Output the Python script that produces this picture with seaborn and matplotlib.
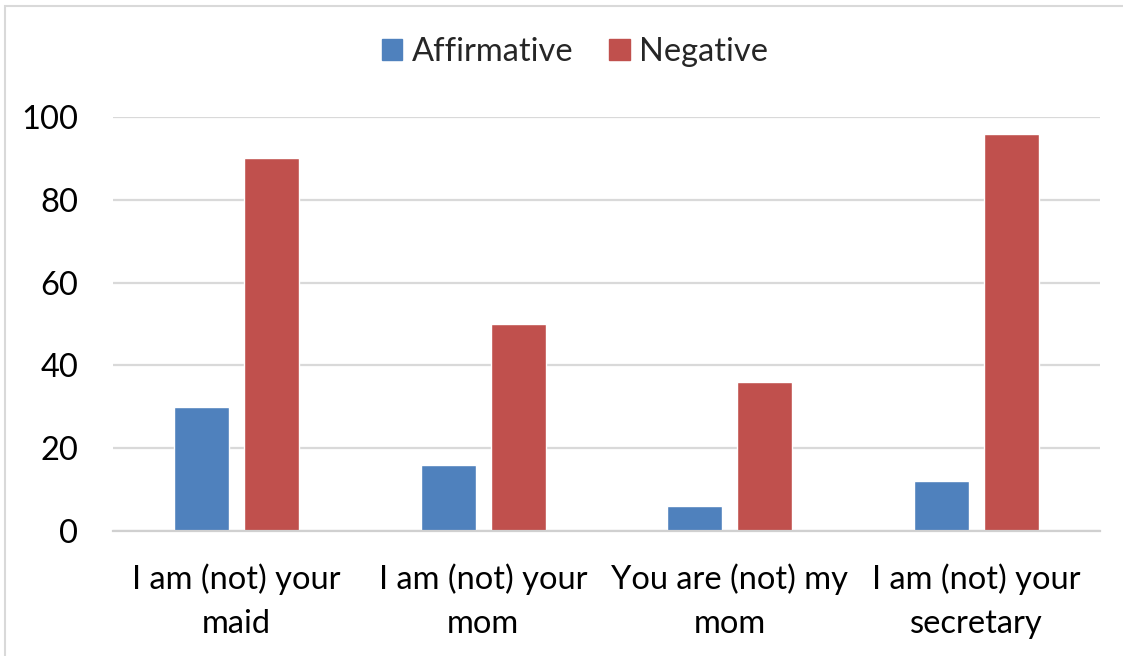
import matplotlib
matplotlib.use("Agg")
import matplotlib.pyplot as plt
from matplotlib.patches import Rectangle
import seaborn as sns
import pandas as pd

categories = ["I am (not) your\nmaid", "I am (not) your\nmom",
              "You are (not) my\nmom", "I am (not) your\nsecretary"]
affirmative = [30, 16, 6, 12]
negative = [90, 50, 36, 96]
series_names = ["Affirmative", "Negative"]
colors = ["#4F81BD", "#C0504D"]
y_ticks = [0, 20, 40, 60, 80, 100]

df = pd.DataFrame({
    "category": categories * 2,
    "value": affirmative + negative,
    "series": [series_names[0]] * len(categories) + [series_names[1]] * len(categories),
})

sns.set_theme(style="white")
plt.rcParams["font.family"] = ["Lato", "DejaVu Sans"]

FS = 23.5
W, H = 1123, 656
fig = plt.figure(figsize=(W / 100, H / 100), dpi=100)
ax = fig.add_axes([113 / W, 1 - 531 / H, (1100 - 113) / W, (531 - 117) / H])

sns.barplot(data=df, x="category", y="value", hue="series", order=categories,
            hue_order=series_names, palette=colors, width=0.567, gap=0.214,
            saturation=1, ax=ax, legend=False, errorbar=None)

ax.set_ylim(0, 100)
ax.set_xlim(-0.5, len(categories) - 0.5)
ax.set_yticks(y_ticks)
ax.set_yticklabels([str(t) for t in y_ticks], fontsize=FS, color="#000000")
ax.set_xticks(range(len(categories)))
ax.set_xticklabels(categories, fontsize=FS, color="#000000", linespacing=1.6)
ax.tick_params(axis="y", length=0, pad=25)
ax.tick_params(axis="x", length=0, pad=23)
ax.set_xlabel("")
ax.set_ylabel("")
ax.yaxis.grid(True, color="#D9D9D9", linewidth=1.6)
ax.set_axisbelow(True)
for side in ["top", "right", "left"]:
    ax.spines[side].set_visible(False)
ax.spines["bottom"].set_color("#D0D0D0")
ax.spines["bottom"].set_linewidth(1.6)

handles = [Rectangle((0, 0), 1, 1, color=c) for c in colors]
fig.legend(handles, series_names, loc="center", bbox_to_anchor=(575 / W, 1 - 52 / H),
           ncol=2, frameon=False, fontsize=FS, handlelength=0.62, handleheight=0.62,
           handletextpad=0.3, columnspacing=1.1)

# light frame around the chart area
fig.patches.append(Rectangle((5 / W, -0.2), 1.2, 1.2 - 6 / H, transform=fig.transFigure,
                             fill=False, edgecolor="#D9D9D9", linewidth=1.5))

fig.savefig("out.png", dpi=100, facecolor="white")
